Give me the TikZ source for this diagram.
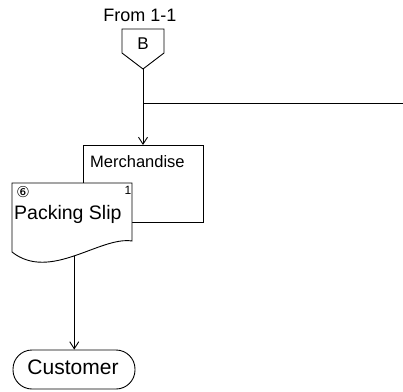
\documentclass[tikz,border=0pt]{standalone}
\usepackage{fontspec}
\setmainfont{Liberation Sans}
\newfontfamily\symfont{DejaVu Sans}
\usetikzlibrary{arrows.meta}
\begin{document}
\begin{tikzpicture}[x=1pt,y=-1pt,
  line/.style={line width=0.9pt},
  arr/.style={line, -{Straight Barb[length=7pt,width=9pt,line width=0.9pt]}},
  lbl/.style={inner sep=0pt}]
\useasboundingbox (0,0) rectangle (403,391);
% off-page connector
\draw[line] (122,29) -- (164,29) -- (164,53) -- (143,69) -- (122,53) -- cycle;
\coordinate (opc) at (143,69);
\node[lbl, font=\fontsize{17}{19}\selectfont] (B) at (143,44) {B};
\node[lbl, font=\fontsize{18}{20}\selectfont] (from) at (140,15) {From 1-1};
% merchandise
\node[line, draw, minimum width=120pt, minimum height=77pt, inner sep=0pt, anchor=north west] (merch) at (83,145) {};
\node[lbl, anchor=west, font=\fontsize{16.5}{19}\selectfont] (merchtxt) at (90,162) {Merchandise};
% junction and line to right
\coordinate (j) at (143,103);
\coordinate (rightend) at (403,103);
\draw[line] (j) -- (rightend);
\draw[arr] (opc) -- (merch.north -| opc);
% document
\draw[line, fill=white] (12,183) -- (132,183) -- (132,241)
   .. controls (100,236) and (50,282) .. coordinate[pos=0.5] (docb) (12,252) -- cycle;
\node[inner sep=0pt, font=\symfont\fontsize{15}{17}\selectfont] (num) at (23,192) {⑥};
\node[inner sep=0pt, font=\fontsize{12}{14}\selectfont] (one) at (128,190) {1};
\node[lbl, anchor=west, font=\fontsize{19.5}{22}\selectfont] (slip) at (14,214) {Packing Slip};
% customer
\node[line, draw, rounded corners=19pt, minimum width=122pt, minimum height=39pt, inner sep=0pt] (cust) at (74,369.5) {};
\node[lbl, font=\fontsize{21}{24}\selectfont] (custtxt) at (73,367) {Customer};
\draw[arr] (docb) -- (docb |- cust.north);
\end{tikzpicture}
\end{document}
